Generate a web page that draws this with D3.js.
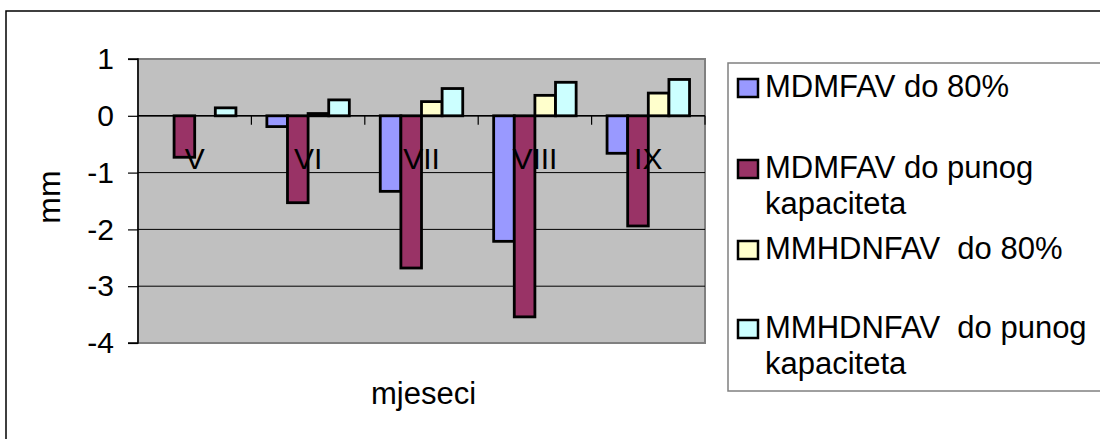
<!DOCTYPE html>
<html>
<head>
<meta charset="utf-8">
<script src="https://cdn.jsdelivr.net/npm/d3@7"></script>
<style>
  html, body { margin: 0; padding: 0; background: #fff; }
  svg { display: block; font-family: "Liberation Sans", Arial, sans-serif; }
  text { white-space: pre; }
</style>
</head>
<body>
<svg id="chart" width="1100" height="439"></svg>
<script>
// Months (Roman numerals) along the category axis
const months = ["V", "VI", "VII", "VIII", "IX"];

// Series names, shown in the legend
const seriesNames = [
  ["MDMFAV do 80%"],
  ["MDMFAV do punog", "kapaciteta"],
  ["MMHDNFAV  do 80%"],
  ["MMHDNFAV  do punog", "kapaciteta"]
];
const seriesColors = ["#9999FF", "#993366", "#FFFFCC", "#CCFFFF"];

// Values in mm, one array per series, in month order
const mdmfav80    = [0, -0.19, -1.33, -2.21, -0.66];
const mdmfavPuni  = [-0.73, -1.53, -2.68, -3.54, -1.94];
const mmhdnfav80  = [0, 0.04, 0.25, 0.36, 0.40];
const mmhdnfavPuni = [0.14, 0.28, 0.48, 0.59, 0.64];
const seriesValues = [mdmfav80, mdmfavPuni, mmhdnfav80, mmhdnfavPuni];

// Value axis ticks
const yTicks = [1, 0, -1, -2, -3, -4];

const svg = d3.select("#chart");
const font = "'Liberation Sans', Arial, sans-serif";

// Outer chart frame
svg.append("rect")
  .attr("x", 6).attr("y", 11)
  .attr("width", 1120).attr("height", 450)
  .attr("fill", "#fff").attr("stroke", "#000").attr("stroke-width", 1.5);

const plot = { left: 138, right: 705, top: 59, bottom: 343 };

const x0 = d3.scaleBand().domain(months).range([plot.left, plot.right]).padding(0);
const x1 = d3.scaleBand().domain(d3.range(seriesValues.length))
  .range([0, x0.bandwidth()]).paddingInner(0).paddingOuter(0.75);
const y = d3.scaleLinear().domain([-4, 1]).range([plot.bottom, plot.top]);

// Plot area background
svg.append("rect")
  .attr("x", plot.left).attr("y", plot.top)
  .attr("width", plot.right - plot.left).attr("height", plot.bottom - plot.top)
  .attr("fill", "#C0C0C0").attr("stroke", "#808080").attr("stroke-width", 2);

// Horizontal gridlines
svg.append("g")
  .selectAll("line")
  .data(yTicks.filter(t => t !== 1 && t !== -4))
  .join("line")
  .attr("x1", plot.left).attr("x2", plot.right)
  .attr("y1", d => y(d)).attr("y2", d => y(d))
  .attr("stroke", "#000").attr("stroke-width", 1);

// Bars
const groups = svg.append("g")
  .selectAll("g")
  .data(seriesValues)
  .join("g")
  .attr("fill", (d, i) => seriesColors[i]);

groups.selectAll("rect")
  .data((vals, si) => vals.map((v, mi) => ({ v, si, m: months[mi] })))
  .join("rect")
  .filter(d => d.v !== 0)
  .attr("x", d => x0(d.m) + x1(d.si))
  .attr("width", x1.bandwidth())
  .attr("y", d => y(Math.max(0, d.v)))
  .attr("height", d => Math.abs(y(d.v) - y(0)))
  .attr("stroke", "#000").attr("stroke-width", 2.8);

// Value axis
const yAxis = d3.axisLeft(y).tickValues(yTicks).tickSize(10).tickPadding(14)
  .tickFormat(d => String(d));
const yAxisG = svg.append("g")
  .attr("transform", `translate(${plot.left},0)`)
  .call(yAxis);
yAxisG.select(".domain").attr("stroke", "#000").attr("stroke-width", 1.5)
  .attr("d", `M-10,${y(1)}H0V${y(-4)}H-10`);
yAxisG.selectAll(".tick line").attr("stroke", "#000").attr("stroke-width", 1.2);
yAxisG.selectAll(".tick text")
  .attr("font-size", 30).attr("font-family", font).attr("fill", "#000");

// Category axis on the zero line
const xAxisG = svg.append("g")
  .attr("transform", `translate(0,${y(0)})`);
xAxisG.append("line")
  .attr("x1", plot.left).attr("x2", plot.right)
  .attr("stroke", "#000").attr("stroke-width", 1.5);
xAxisG.selectAll("line.tick")
  .data(months.slice(1).map(m => x0(m)).concat([plot.right]))
  .join("line")
  .attr("class", "tick")
  .attr("x1", d => d).attr("x2", d => d)
  .attr("y1", 0).attr("y2", 9)
  .attr("stroke", "#000").attr("stroke-width", 1.2);
xAxisG.selectAll("text")
  .data(months)
  .join("text")
  .attr("x", d => x0(d) + x0.bandwidth() / 2)
  .attr("y", 53)
  .attr("text-anchor", "middle")
  .attr("font-size", 30).attr("font-family", font)
  .text(d => d);

// Axis titles
svg.append("text")
  .attr("transform", "translate(60,197) rotate(-90)")
  .attr("text-anchor", "middle")
  .attr("font-size", 32).attr("font-family", font)
  .text("mm");

svg.append("text")
  .attr("x", (plot.left + plot.right) / 2 + 2)
  .attr("y", 404)
  .attr("text-anchor", "middle")
  .attr("font-size", 31).attr("font-family", font)
  .text("mjeseci");

// Legend
const legend = svg.append("g");
legend.append("rect")
  .attr("x", 728).attr("y", 63)
  .attr("width", 420).attr("height", 328)
  .attr("fill", "#fff").attr("stroke", "#808080").attr("stroke-width", 1.5);

const entryBaselines = [97, 178, 259, 338];
const items = legend.selectAll("g.item")
  .data(seriesNames)
  .join("g")
  .attr("class", "item");

items.append("rect")
  .attr("x", 738).attr("y", (d, i) => entryBaselines[i] - 18)
  .attr("width", 20).attr("height", 18)
  .attr("fill", (d, i) => seriesColors[i])
  .attr("stroke", "#000").attr("stroke-width", 2.5);

items.append("text")
  .attr("font-size", 31).attr("font-family", font)
  .selectAll("tspan")
  .data((lines, i) => lines.map((t, k) => ({ t, k, i })))
  .join("tspan")
  .attr("x", 765)
  .attr("y", d => entryBaselines[d.i] + d.k * 36)
  .text(d => d.t);
</script>
</body>
</html>
